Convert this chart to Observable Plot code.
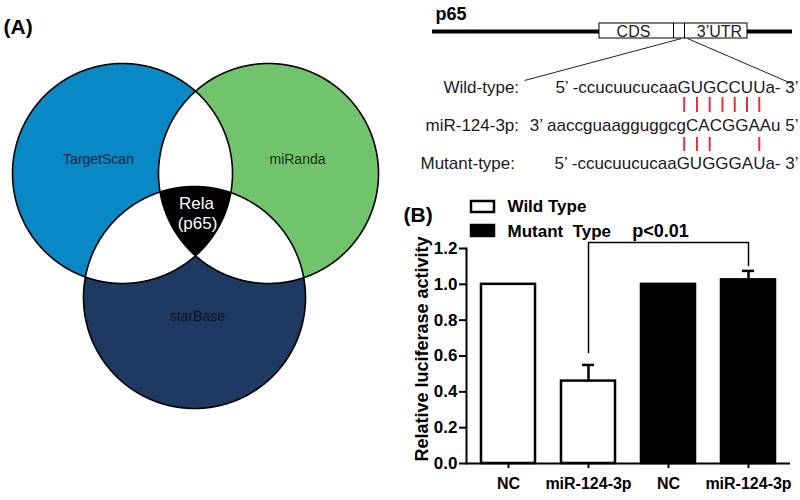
<!DOCTYPE html>
<html><head><meta charset="utf-8">
<script src="https://cdn.jsdelivr.net/npm/d3@7"></script>
<script src="https://cdn.jsdelivr.net/npm/@observablehq/plot@0.6"></script>
<style>
html,body{margin:0;padding:0;background:#fff;}
#fig{position:relative;width:800px;height:500px;overflow:hidden;background:#fff;}
#fig svg{position:absolute;left:0;top:0;}
</style></head><body><div id="fig"></div>
<script>
// ---------------- data ----------------
const panelLabels = ["(A)", "(B)"];
const vennSets = ["TargetScan", "miRanda", "starBase"];
const vennCore = ["Rela", "(p65)"];
const geneName = "p65";
const geneParts = ["CDS", "3’UTR"];
const seqLabels = ["Wild-type:", "miR-124-3p:", "Mutant-type:"];
const seqs = ["5’ -ccucuucucaaGUGCCUUa- 3’", "3’ aaccguaagguggcgCACGGAAu 5’", "5’ -ccucuucucaaGUGGGAUa- 3’"];
const seedStart = 15;                 // index of first seed base in the wild-type string
const wildPairs = [0, 1, 2, 3, 4, 5, 6];
const mutantPairs = [0, 1, 2, 6];
const groups = ["Wild Type", "Wild Type", "Mutant Type", "Mutant Type"];
const treatments = ["NC", "miR-124-3p", "NC", "miR-124-3p"];
const activity = [1.00, 0.46, 1.00, 1.025];
const sem = [0, 0.09, 0, 0.05];
const yTicks = [0, 0.2, 0.4, 0.6, 0.8, 1.0, 1.2];
const yTitle = "Relative luciferase activity";
const pLabel = "p<0.01";

// ---------------- layout / styles ----------------
const FONT = "'Liberation Sans', Arial, Helvetica, sans-serif";
const vennLayout = [
  {cx: 122, cy: 173, r: 110, fill: "#0889c6", tx: 98, ty: 159, tc: "#0a2238"},
  {cx: 268, cy: 173, r: 110, fill: "#72c46c", tx: 297, ty: 159, tc: "#16301a"},
  {cx: 194, cy: 297, r: 111, fill: "#1f3a62", tx: 197, ty: 316, tc: "#0a1424"}
];
const circles = vennSets.map((name, i) => ({name, ...vennLayout[i]}));

function ring(c, n = 1440) {
  return d3.range(n).map(k => {
    const a = 2 * Math.PI * k / n;
    return [c.cx + c.r * Math.cos(a), c.cy + c.r * Math.sin(a)];
  });
}
const inside = (p, c) => (p[0] - c.cx) ** 2 + (p[1] - c.cy) ** 2 <= c.r * c.r + 1e-6;
function region(idx) {
  const pts = [];
  idx.forEach(i => ring(circles[i]).forEach(p => {
    if (idx.every(j => j === i || inside(p, circles[j]))) pts.push(p);
  }));
  return d3.polygonHull(pts);
}
function toPts(list) {
  return list.flatMap((r, k) => r.hull.map(p => ({k, x: p[0], y: p[1], fill: r.fill})));
}
const disks = toPts(circles.map((c, i) => ({hull: region([i]), fill: c.fill})));
const lenses = toPts([[0, 1], [0, 2], [1, 2]].map(idx => ({hull: region(idx), fill: "white"})));
const core = toPts([{hull: region([0, 1, 2]), fill: "black"}]);

// text measuring for seed-pair ticks
const ctx = document.createElement("canvas").getContext("2d");
ctx.font = `17px ${FONT}`;
const tw = s => ctx.measureText(s).width;
const seqRight = 798;
const wt = seqs[0];
const seedX = k => {
  const i = seedStart + k;
  return seqRight - tw(wt) + (tw(wt.slice(0, i)) + tw(wt.slice(0, i + 1))) / 2;
};
const seqRows = [87, 125, 163];
const labelX = [443, 425, 420];

const annot = Plot.plot({
  width: 800, height: 500, margin: 0,
  style: {background: "transparent", fontFamily: FONT, overflow: "visible"},
  x: {domain: [0, 800], range: [0, 800], axis: null},
  y: {domain: [0, 500], range: [0, 500], axis: null},
  color: {type: "identity"},
  marks: [
    // Venn
    Plot.line(disks, {x: "x", y: "y", z: "k", fill: "fill", stroke: "none", curve: "linear-closed"}),
    Plot.line(lenses, {x: "x", y: "y", z: "k", fill: "fill", stroke: "none", curve: "linear-closed"}),
    Plot.line(core, {x: "x", y: "y", z: "k", fill: "fill", stroke: "none", curve: "linear-closed"}),
    Plot.line(disks, {x: "x", y: "y", z: "k", stroke: "black", strokeWidth: 1.6, curve: "linear-closed"}),
    Plot.text(circles, {x: "tx", y: "ty", text: "name", fill: "tc", fontSize: 14}),
    Plot.text(vennCore, {x: (d, i) => 196 + i, y: (d, i) => 203 + 20 * i, text: d => d, fill: "white", fontSize: 17}),
    // panel labels
    Plot.text(panelLabels, {x: (d, i) => [3, 403][i], y: (d, i) => [27, 215][i], text: d => d, textAnchor: "start", fontWeight: "bold", fontSize: 21}),
    // gene schematic
    Plot.text([geneName], {x: 435, y: 14, text: d => d, textAnchor: "start", fontWeight: "bold", fontSize: 18}),
    Plot.ruleY([31], {x1: 432, x2: 792, strokeWidth: 4}),
    Plot.rect([0], {x1: 599, x2: 747, y1: 23, y2: 38, fill: "white", stroke: "black", strokeWidth: 1}),
    Plot.ruleX([673, 684], {x: d => d, y1: 23, y2: 38, strokeWidth: 1}),
    Plot.text(geneParts, {x: (d, i) => [633, 719][i], y: 31, text: d => d, fontSize: 16, fill: "#222"}),
    Plot.link([{a: 681, b: 38, c: 524, d: 80}, {a: 687, b: 38, c: 791, d: 83}], {x1: "a", y1: "b", x2: "c", y2: "d", strokeWidth: 1, stroke: "#222"}),
    Plot.text(seqLabels, {x: (d, i) => labelX[i], y: (d, i) => seqRows[i], text: d => d, textAnchor: "start", fontSize: 17, fill: "#1a1a1a"}),
    Plot.text(seqs, {x: seqRight, y: (d, i) => seqRows[i], text: d => d, textAnchor: "end", fontSize: 17, fill: "#1a1a1a"}),
    Plot.ruleX(wildPairs.map(seedX), {x: d => d, y1: 97, y2: 112, stroke: "#e8303a", strokeWidth: 2}),
    Plot.ruleX(mutantPairs.map(seedX), {x: d => d, y1: 137, y2: 151, stroke: "#e8303a", strokeWidth: 2}),
    // legend
    Plot.rect(["Wild Type", "Mutant Type"], {x1: 471, x2: 494, y1: (d, i) => [201, 225][i], y2: (d, i) => [212, 236][i], fill: (d, i) => ["white", "black"][i], stroke: "black", strokeWidth: 2.5}),
    Plot.text(["Wild Type", "Mutant  Type"], {x: 507, y: (d, i) => [206, 231][i], text: d => d, textAnchor: "start", fontWeight: "bold", fontSize: 17})
  ]
});

// ---------------- bar chart ----------------
const bars = groups.map((g, i) => ({id: String(i), group: g, treatment: treatments[i], value: activity[i], err: sem[i]}));
const withErr = bars.filter(d => d.err > 0);
const bracket = [{id: "1", y: 0.62}, {id: "1", y: 1.233}, {id: "3", y: 1.233}, {id: "3", y: 1.105}];

const chart = Plot.plot({
  width: 800, height: 500,
  marginLeft: 466, marginRight: 10, marginTop: 248, marginBottom: 37,
  style: {background: "transparent", fontFamily: FONT, overflow: "visible", color: "black"},
  x: {type: "band", domain: bars.map(d => d.id), paddingInner: 0.325, paddingOuter: 0.18},
  y: {domain: [0, 1.2]},
  color: {domain: ["Wild Type", "Mutant Type"], range: ["white", "black"]},
  marks: [
    Plot.barY(bars, {x: "id", y: "value", fill: "group", stroke: "black", strokeWidth: 2.5}),
    Plot.ruleX(withErr, {x: "id", y1: "value", y2: d => d.value + d.err, strokeWidth: 2.5}),
    Plot.tickY(withErr, {x: "id", y: d => d.value + d.err, insetLeft: 21, insetRight: 21, strokeWidth: 2.5}),
    Plot.line(bracket, {x: "id", y: "y", strokeWidth: 1.5}),
    Plot.text([pLabel], {x: () => "2", y: () => 1.295, text: d => d, dx: -8, fontSize: 18, fontWeight: "bold"}),
    Plot.ruleY([0], {strokeWidth: 2}),
    Plot.frame({anchor: "left", strokeWidth: 2}),
    Plot.axisY({ticks: yTicks, tickFormat: d3.format(".1f"), tickSize: 7, tickPadding: 2, fontSize: 17, fontWeight: "bold", strokeWidth: 2, label: null}),
    Plot.axisX({tickFormat: id => bars[+id].treatment, tickSize: 5, tickPadding: 9, fontSize: 16, fontWeight: "bold", strokeWidth: 2, label: null}),
    Plot.text([yTitle], {frameAnchor: "left", textAnchor: "middle", rotate: -90, text: d => d, dx: -44, dy: -7, fontSize: 18, fontWeight: "bold"})
  ]
});

const fig = document.getElementById("fig");
fig.appendChild(annot);
fig.appendChild(chart);
</script></body></html>
